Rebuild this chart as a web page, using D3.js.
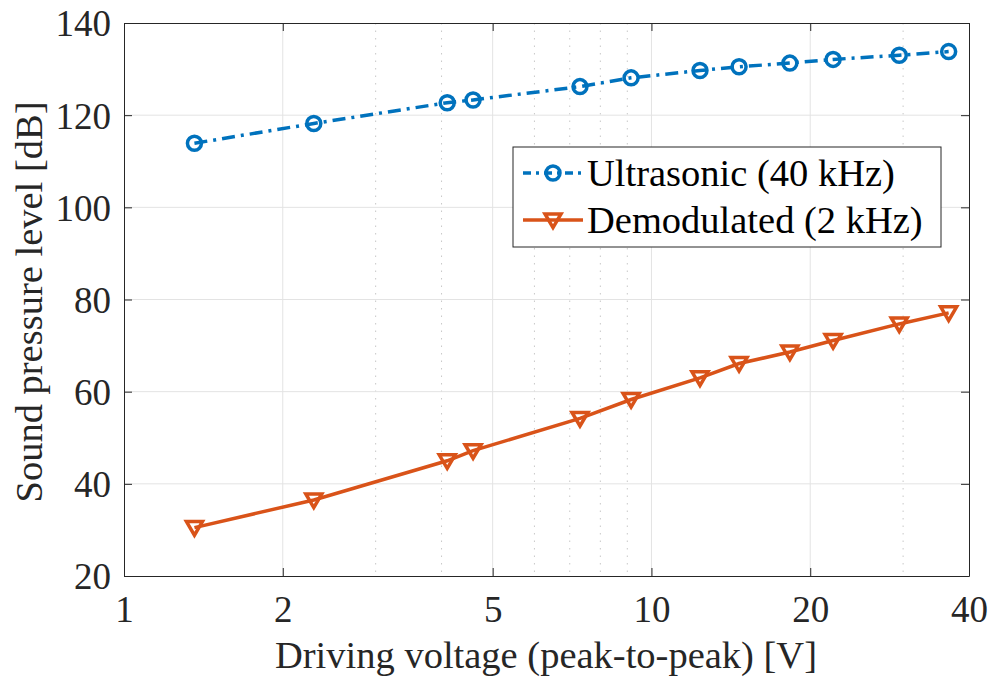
<!DOCTYPE html>
<html>
<head>
<meta charset="utf-8">
<script src="https://cdn.jsdelivr.net/npm/d3@7"></script>
<style>
  body { margin: 0; background: #fff; }
  svg { display: block; }
</style>
</head>
<body>
<div id="chart"></div>
<script>
// driving voltage (peak-to-peak) [V]
const voltages = [1.36, 2.29, 4.1, 4.59, 7.32, 9.15, 12.36, 14.66, 18.3, 22.1, 29.5, 36.6];
// sound pressure level [dB]
const ultrasonic = [113.9, 118.2, 122.7, 123.3, 126.2, 128.1, 129.7, 130.5, 131.3, 132.1, 133.0, 133.8];
const demodulated = [30.5, 36.5, 45.0, 47.2, 54.2, 58.3, 63.0, 66.1, 68.6, 71.1, 74.7, 77.1];

const xTicks = [1, 2, 5, 10, 20, 40];
const xMinor = [3, 4, 6, 7, 8, 9, 30];
const yTicks = [20, 40, 60, 80, 100, 120, 140];

const seriesNames = ['Ultrasonic (40 kHz)', 'Demodulated (2 kHz)'];

const width = 991, height = 678;
const margin = {top: 23, right: 22, bottom: 102, left: 124};
const innerW = width - margin.left - margin.right,
      innerH = height - margin.top - margin.bottom;

const blue = '#0072BD', orange = '#D95319';
const font = '"Liberation Serif", "Times New Roman", serif';
const dashDot = '13,6,3,6';

const svg = d3.select('#chart').append('svg')
  .attr('width', width)
  .attr('height', height)
  .style('font-family', font);

const x = d3.scaleLog().domain([1, 40]).range([0, innerW]);
const y = d3.scaleLinear().domain([20, 140]).range([innerH, 0]);

const g = svg.append('g').attr('transform', `translate(${margin.left},${margin.top})`);

// grid
g.append('g').selectAll('line')
  .data(xMinor)
  .join('line')
    .attr('x1', d => x(d)).attr('x2', d => x(d))
    .attr('y1', 0).attr('y2', innerH)
    .attr('stroke', '#c8c8c8')
    .attr('stroke-width', 1)
    .attr('stroke-dasharray', '1.5,6');

g.append('g').selectAll('line')
  .data(xTicks.slice(1, -1))
  .join('line')
    .attr('x1', d => x(d)).attr('x2', d => x(d))
    .attr('y1', 0).attr('y2', innerH)
    .attr('stroke', '#e3e3e3')
    .attr('stroke-width', 1);

g.append('g').selectAll('line')
  .data(yTicks.slice(1, -1))
  .join('line')
    .attr('x1', 0).attr('x2', innerW)
    .attr('y1', d => y(d)).attr('y2', d => y(d))
    .attr('stroke', '#e3e3e3')
    .attr('stroke-width', 1);

// axes
const xAxis = g.append('g')
  .attr('transform', `translate(0,${innerH})`)
  .call(d3.axisBottom(x).tickValues(xTicks).tickFormat(d3.format('d')).tickSizeInner(-8).tickSizeOuter(0).tickPadding(20));
const xAxisTop = g.append('g')
  .call(d3.axisTop(x).tickValues(xTicks).tickFormat('').tickSizeInner(-8).tickSizeOuter(0));
const yAxis = g.append('g')
  .call(d3.axisLeft(y).tickValues(yTicks).tickSizeInner(-8).tickSizeOuter(0).tickPadding(13));
const yAxisRight = g.append('g')
  .attr('transform', `translate(${innerW},0)`)
  .call(d3.axisRight(y).tickValues(yTicks).tickFormat('').tickSizeInner(-8).tickSizeOuter(0));

[xAxis, xAxisTop, yAxis, yAxisRight].forEach(a => {
  a.select('.domain').attr('stroke', '#262626').attr('stroke-width', 1);
  a.selectAll('.tick line').attr('stroke', '#262626').attr('stroke-width', 1);
  a.selectAll('text')
    .attr('fill', '#262626')
    .style('font-family', font)
    .style('font-size', '37px');
});
yAxis.selectAll('text').attr('dy', '0.35em');

// series lines
const line = d3.line()
  .x(d => x(d[0]))
  .y(d => y(d[1]));

const ultraPts = voltages.map((v, i) => [v, ultrasonic[i]]);
const demodPts = voltages.map((v, i) => [v, demodulated[i]]);

g.append('path')
  .datum(demodPts)
  .attr('d', line)
  .attr('fill', 'none')
  .attr('stroke', orange)
  .attr('stroke-width', 3.5);

g.append('path')
  .datum(ultraPts)
  .attr('d', line)
  .attr('fill', 'none')
  .attr('stroke', blue)
  .attr('stroke-width', 3.5)
  .attr('stroke-dasharray', dashDot);

const triangle = s => `M${-s},${-s * 0.75}L${s},${-s * 0.75}L0,${s * 0.95}Z`;

g.append('g').selectAll('path')
  .data(demodPts)
  .join('path')
    .attr('transform', d => `translate(${x(d[0])},${y(d[1])})`)
    .attr('d', triangle(8))
    .attr('fill', 'none')
    .attr('stroke', orange)
    .attr('stroke-width', 3.5);

g.append('g').selectAll('circle')
  .data(ultraPts)
  .join('circle')
    .attr('cx', d => x(d[0]))
    .attr('cy', d => y(d[1]))
    .attr('r', 7)
    .attr('fill', 'none')
    .attr('stroke', blue)
    .attr('stroke-width', 3.5);

// axis labels
svg.append('text')
  .attr('x', 546)
  .attr('y', 668)
  .attr('text-anchor', 'middle')
  .attr('fill', '#262626')
  .style('font-size', '38.5px')
  .text('Driving voltage (peak-to-peak) [V]');

svg.append('text')
  .attr('transform', `translate(42,302) rotate(-90)`)
  .attr('text-anchor', 'middle')
  .attr('fill', '#262626')
  .style('font-size', '38.5px')
  .text('Sound pressure level [dB]');

// legend
const legend = svg.append('g').attr('transform', 'translate(513,147)');
legend.append('rect')
  .attr('width', 428).attr('height', 100)
  .attr('fill', '#fff')
  .attr('stroke', '#262626')
  .attr('stroke-width', 1);

const rows = legend.selectAll('g.row')
  .data(seriesNames)
  .join('g')
    .attr('class', 'row')
    .attr('transform', (d, i) => `translate(0,${26 + i * 47})`);

rows.append('line')
  .attr('x1', 10).attr('x2', 70)
  .attr('stroke', (d, i) => i === 0 ? blue : orange)
  .attr('stroke-width', 3.5)
  .attr('stroke-dasharray', (d, i) => i === 0 ? '8,5,3,5' : null);

rows.filter((d, i) => i === 0).append('circle')
  .attr('cx', 40).attr('r', 7)
  .attr('fill', 'none').attr('stroke', blue).attr('stroke-width', 3.5);

rows.filter((d, i) => i === 1).append('path')
  .attr('transform', 'translate(40,0)')
  .attr('d', triangle(8))
  .attr('fill', 'none').attr('stroke', orange).attr('stroke-width', 3.5);

rows.append('text')
  .attr('x', 74)
  .attr('dy', '0.35em')
  .attr('fill', '#000')
  .style('font-size', '38.5px')
  .text(d => d);
</script>
</body>
</html>
